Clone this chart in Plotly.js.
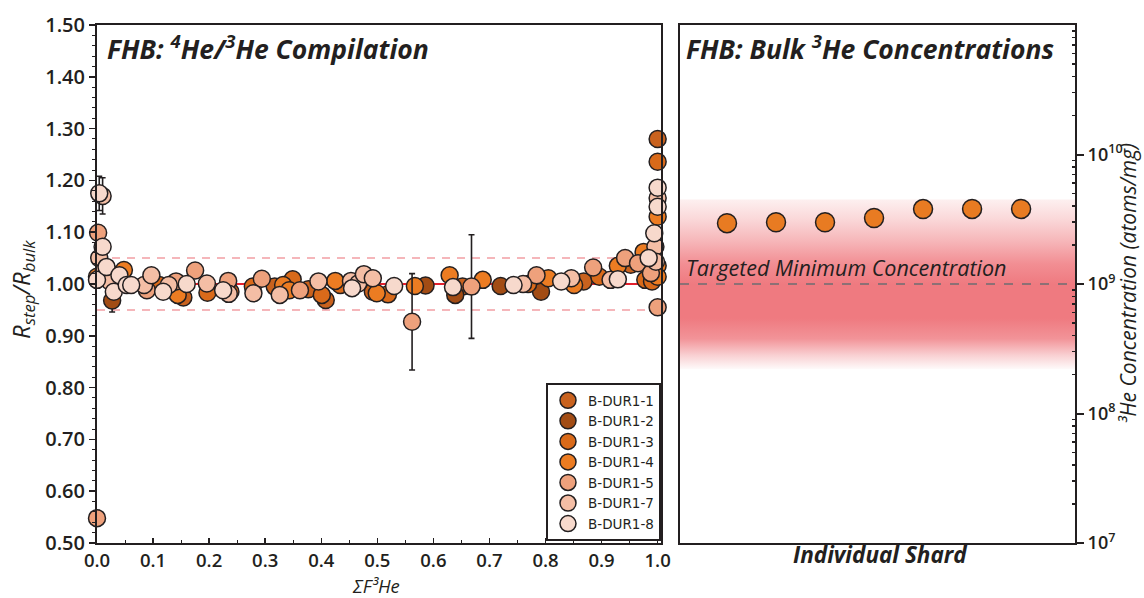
<!DOCTYPE html>
<html><head><meta charset="utf-8">
<script src="https://cdn.plot.ly/plotly-3.0.1.min.js"></script>
<style>html,body{margin:0;padding:0;background:#fff}#chart{width:1144px;height:598px}</style>
</head><body><div id="chart"></div>
<script>
// ---- Left panel: R_step/R_bulk vs cumulative 3He release fraction ----
const seriesNames = ["B-DUR1-1","B-DUR1-2","B-DUR1-3","B-DUR1-4","B-DUR1-5","B-DUR1-7","B-DUR1-8"];

const x1 = [0.027,0.154,0.238,0.317,0.377,0.408,0.492,0.652,0.868,0.952,1.000];
const y1 = [1.019,0.974,0.985,0.995,0.990,0.969,0.985,0.995,1.005,1.037,1.280];
const e1 = [0.012,0.010,0.010,0.010,0.010,0.012,0.010,0.010,0.010,0.012,0.012];

const x2 = [0.027,0.586,0.639,0.720,0.792];
const y2 = [0.968,0.997,0.979,0.996,0.985];
const e2 = [0.022,0.008,0.010,0.008,0.012];

const x3 = [0.111,0.197,0.278,0.349,0.401,0.434,0.519,0.769,0.896,0.978,0.990,1.000];
const y3 = [0.998,0.983,0.995,1.009,0.979,0.998,0.980,1.000,1.014,1.008,1.005,1.236];
const e3 = [0.010,0.010,0.010,0.010,0.010,0.010,0.010,0.010,0.010,0.010,0.010,0.012];

const x4 = [0.000,0.048,0.144,0.332,0.343,0.425,0.499,0.567,0.629,0.688,0.805,0.851,0.929,0.975,1.000,1.000,1.000];
const y4 = [1.014,1.027,0.979,0.998,0.988,1.006,0.982,0.996,1.017,1.008,1.011,0.998,1.035,1.062,1.035,1.130,1.014];
const e4 = [0.012,0.012,0.010,0.010,0.010,0.010,0.010,0.010,0.010,0.010,0.010,0.010,0.010,0.012,0.012,0.012,0.012];

const x5 = [0.000,0.002,0.089,0.141,0.175,0.234,0.294,0.362,0.562,0.668,0.784,0.885,0.942,0.965,0.988,1.000];
const y5 = [0.548,1.099,0.988,1.005,1.026,1.006,1.010,0.988,0.927,0.995,1.017,1.032,1.050,1.040,1.021,0.955];
const e5 = [0.015,0.012,0.010,0.010,0.010,0.010,0.010,0.010,0.093,0.100,0.010,0.010,0.012,0.012,0.012,0.012];

const x7 = [0.010,0.004,0.012,0.023,0.084,0.097,0.128,0.196,0.235,0.279,0.326,0.395,0.453,0.466,0.476,0.492,0.760,0.846,0.916,0.996,0.997,1.000];
const y7 = [1.170,1.050,1.025,1.005,0.998,1.017,0.998,1.001,0.981,0.982,0.979,1.005,1.006,1.001,1.019,1.011,1.000,1.011,1.008,1.072,1.043,1.166];
const e7 = [0.035,0.012,0.010,0.010,0.010,0.010,0.010,0.010,0.010,0.010,0.010,0.010,0.010,0.010,0.010,0.010,0.010,0.010,0.010,0.012,0.012,0.012];

const x8 = [0.004,0.010,0.000,0.017,0.030,0.040,0.053,0.061,0.118,0.160,0.225,0.455,0.530,0.635,0.743,0.828,0.929,0.984,0.994,1.000,1.000];
const y8 = [1.175,1.072,1.008,1.033,0.985,1.017,0.998,0.998,0.985,1.000,0.988,0.992,0.996,0.994,0.998,1.005,1.009,1.050,1.098,1.186,1.149];
const e8 = [0.033,0.012,0.010,0.010,0.010,0.010,0.010,0.010,0.010,0.010,0.010,0.010,0.010,0.010,0.010,0.010,0.010,0.012,0.012,0.012,0.012];

const xTickVals = [0,0.1,0.2,0.3,0.4,0.5,0.6,0.7,0.8,0.9,1.0];
const yTickVals = [0.5,0.6,0.7,0.8,0.9,1.0,1.1,1.2,1.3,1.4,1.5];
const refRatio = 1.0, refBandLow = 0.95, refBandHigh = 1.05;

// ---- Right panel: bulk 3He concentrations ----
const shards = [1,2,3,4,5,6,7];
const bulkConc = [2.95e9,3.0e9,3.0e9,3.23e9,3.79e9,3.8e9,3.8e9];
const targetConc = 1e9;
const targetBandLow = 2.2e8, targetBandHigh = 4.5e9;
const concTickVals = [1e7,1e8,1e9,1e10];
const concTickText = ["10<sup>7</sup>","10<sup>8</sup>","10<sup>9</sup>","10<sup>10</sup>"];

// ---- styling ----
const ink = "#231f20";
const FONT = "Open Sans";
const colors = ["#c9621e","#a24c14","#d96a1a","#ec7c22","#eea17c","#f4bea5","#f7d9cc"];
const W = 1144, H = 598;
const px = v => v / W, py = v => 1 - v / H;
const x2Range = [0.041, 8.10];

const allX = [x1,x2,x3,x4,x5,x7,x8], allY = [y1,y2,y3,y4,y5,y7,y8], allE = [e1,e2,e3,e4,e5,e7,e8];

const traces = [];
// gradient band (right panel)
traces.push({
  x:[x2Range[0],x2Range[1],x2Range[1],x2Range[0]],
  y:[targetBandLow,targetBandLow,targetBandHigh,targetBandHigh],
  xaxis:"x2", yaxis:"y2", mode:"none", fill:"toself", showlegend:false, hoverinfo:"skip",
  fillcolor:"rgba(0,0,0,0)",
  fillgradient:{type:"vertical", colorscale:[
    [0,"#fefafa"],[0.08,"#f9d1d3"],[0.18,"#f29398"],[0.3,"#ef7a80"],[0.5,"#ef7a80"],
    [0.62,"#f28e93"],[0.75,"#f6b5b8"],[0.88,"#fad7d8"],[1,"#fdf0f0"]]}
});
traces.push({
  x:x2Range, y:[targetConc,targetConc], xaxis:"x2", yaxis:"y2", mode:"lines",
  line:{color:"#6d6e71", width:1.6, dash:"9px,9px"}, showlegend:false, hoverinfo:"skip"
});
traces.push({
  x:shards, y:bulkConc, xaxis:"x2", yaxis:"y2", mode:"markers", showlegend:false,
  marker:{size:19, color:"#e87b22", line:{color:ink, width:1.5}}
});

for (let i=0;i<seriesNames.length;i++){
  traces.push({
    x:allX[i], y:allY[i], name:seriesNames[i], type:"scatter", mode:"markers",
    xaxis:"x", yaxis:"y", cliponaxis:false,
    error_y:{type:"data", array:allE[i], visible:true, color:ink, thickness:1.6, width:3},
    marker:{size:17, color:colors[i], line:{color:ink, width:1.5}}
  });
}

const tickFont = {family:FONT, size:20, color:ink, weight:600};
const tickFontX = {family:FONT, size:18.5, color:ink, weight:600};
const tickFontR = {family:FONT, size:18, color:ink, weight:600};
const minorLog = [];
for (let d=7; d<11; d++) for (let m=2; m<10; m++) minorLog.push(m*Math.pow(10,d));

const layout = {
  width:W, height:H, margin:{l:0,r:0,t:0,b:0},
  paper_bgcolor:"#fff", plot_bgcolor:"#fff",
  font:{family:FONT, color:ink},
  showlegend:true,
  legend:{x:px(661), y:py(541), xanchor:"right", yanchor:"bottom", bgcolor:"#fff",
    bordercolor:ink, borderwidth:2, font:{family:"DejaVu Sans", size:13.5, color:ink},
    itemwidth:30, tracegroupgap:0},
  xaxis:{domain:[px(97),px(661)], anchor:"y", range:[0,1.006], tickvals:xTickVals, tickformat:".1f",
    showgrid:false, zeroline:false, showline:true, linecolor:ink, linewidth:2, mirror:true,
    ticks:"inside", ticklen:5, tickwidth:1.5, tickcolor:ink, tickfont:tickFontX,
    minor:{dtick:0.05, ticks:"inside", ticklen:3, tickcolor:ink, tickwidth:1}},
  yaxis:{domain:[py(543),py(25)], anchor:"x", range:[0.5,1.5], tickvals:yTickVals, tickformat:".2f",
    showgrid:false, zeroline:false, showline:true, linecolor:ink, linewidth:2, mirror:true,
    ticks:"outside", ticklen:6, tickwidth:1.5, tickcolor:ink, tickfont:tickFont,
    minor:{dtick:0.02, ticks:"outside", ticklen:3, tickcolor:ink, tickwidth:1}},
  xaxis2:{domain:[px(680),px(1075)], anchor:"y2", range:x2Range, showticklabels:false, ticks:"",
    showgrid:false, zeroline:false, showline:true, linecolor:ink, linewidth:2, mirror:true},
  yaxis2:{domain:[py(543),py(25)], anchor:"x2", side:"right", type:"log", range:[7,11],
    tickvals:concTickVals, ticktext:concTickText, showgrid:false, zeroline:false,
    showline:true, linecolor:ink, linewidth:2, mirror:true,
    ticks:"outside", ticklen:7, tickwidth:2, tickcolor:ink, tickfont:tickFontR,
    minor:{tickvals:minorLog, ticks:"inside", ticklen:3, tickcolor:ink, tickwidth:1.5}},
  shapes:[
    {type:"line", xref:"x", yref:"y", x0:0, x1:1, y0:refRatio, y1:refRatio, layer:"below",
      line:{color:"#e3202d", width:2}},
    {type:"line", xref:"x", yref:"y", x0:0, x1:1, y0:refBandHigh, y1:refBandHigh, layer:"below",
      line:{color:"#f29ea4", width:1.5, dash:"8px,7px"}},
    {type:"line", xref:"x", yref:"y", x0:0, x1:1, y0:refBandLow, y1:refBandLow, layer:"below",
      line:{color:"#f29ea4", width:1.5, dash:"8px,7px"}}
  ],
  annotations:[
    {xref:"paper", yref:"paper", x:px(105), y:py(48), xanchor:"left", yanchor:"middle", showarrow:false,
      text:"<b><i>FHB: <sup>4</sup>He/<sup>3</sup>He Compilation</i></b>", font:{family:FONT, size:26.5, color:ink}},
    {xref:"paper", yref:"paper", x:px(684), y:py(48), xanchor:"left", yanchor:"middle", showarrow:false,
      text:"<b><i>FHB: Bulk <sup>3</sup>He Concentrations</i></b>", font:{family:FONT, size:26.5, color:ink}},
    {xref:"paper", yref:"paper", x:px(684), y:py(268), xanchor:"left", yanchor:"middle", showarrow:false,
      text:"<i>Targeted Minimum Concentration</i>", font:{family:FONT, size:21.5, color:ink}},
    {xref:"paper", yref:"paper", x:px(376), y:py(585), xanchor:"center", yanchor:"middle", showarrow:false,
      text:"<i>ΣF³He</i>", font:{family:FONT, size:18.5, color:ink}},
    {xref:"paper", yref:"paper", x:px(22), y:py(290), xanchor:"center", yanchor:"middle", showarrow:false, textangle:-90,
      text:"<i>R<sub>step</sub>/R<sub>bulk</sub></i>", font:{family:FONT, size:24, color:ink}},
    {xref:"paper", yref:"paper", x:px(880), y:py(554), xanchor:"center", yanchor:"middle", showarrow:false,
      text:"<b><i>Individual Shard</i></b>", font:{family:FONT, size:22.5, color:ink}},
    {xref:"paper", yref:"paper", x:px(1128), y:py(284), xanchor:"center", yanchor:"middle", showarrow:false, textangle:-90,
      text:"<i>³He Concentration (atoms/mg)</i>", font:{family:FONT, size:21, color:ink}}
  ]
};

Plotly.newPlot("chart", traces, layout, {displayModeBar:false, staticPlot:true});
</script>
</body></html>
